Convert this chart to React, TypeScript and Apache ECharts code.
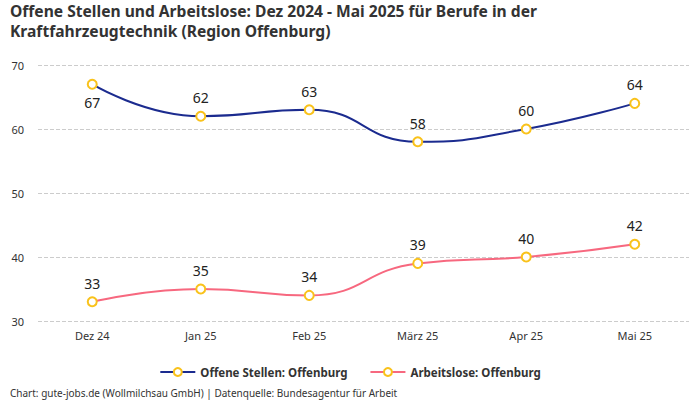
import React, { useEffect, useRef } from "react";
import * as echarts from "echarts";

const categories = ["Dez 24", "Jan 25", "Feb 25", "März 25", "Apr 25", "Mai 25"];
const offeneStellen = [67, 62, 63, 58, 60, 64];
const arbeitslose = [33, 35, 34, 39, 40, 42];
const seriesNames = ["Offene Stellen: Offenburg", "Arbeitslose: Offenburg"];
const titleLine1 = "Offene Stellen und Arbeitslose: Dez 2024 - Mai 2025 für Berufe in der";
const titleLine2 = "Kraftfahrzeugtechnik (Region Offenburg)";
const footerText = "Chart: gute-jobs.de (Wollmilchsau GmbH) | Datenquelle: Bundesagentur für Arbeit";

const FONT = "'Noto Sans', 'Open Sans', sans-serif";

export default function App() {
  const ref = useRef<HTMLDivElement>(null);
  useEffect(() => {
    document.body.style.margin = "0";
    if (!ref.current) return;
    const chart = echarts.init(ref.current, null, { renderer: "svg" });
    const marker = { color: "#ffffff", borderColor: "#f9c21b", borderWidth: 2 };
    const titleStyle = { fontSize: 15.6, fontWeight: "bold", color: "#333", lineHeight: 17, fontFamily: FONT };
    chart.setOption({
      animation: false,
      textStyle: { fontFamily: FONT },
      title: {
        text: titleLine1,
        subtext: titleLine2,
        left: 10,
        top: 2,
        itemGap: 3,
        padding: [0, 0, 0, 0],
        textStyle: titleStyle,
        subtextStyle: titleStyle,
      },
      graphic: [
        {
          type: "text",
          left: 10,
          top: 388,
          style: { text: footerText, fontSize: 10, fill: "#333", fontFamily: FONT },
        },
      ],
      legend: {
        top: 361,
        left: "center",
        itemWidth: 35,
        itemHeight: 10,
        itemGap: 22,
        textStyle: { fontSize: 11.5, fontWeight: "bold", color: "#333", fontFamily: FONT },
        data: seriesNames,
      },
      grid: { left: 38, right: 11, top: 65, bottom: 79, containLabel: false },
      xAxis: {
        type: "category",
        data: categories,
        boundaryGap: true,
        axisLine: { show: false },
        axisTick: { show: false },
        axisLabel: { color: "#333", fontSize: 11, margin: 9, fontFamily: FONT },
      },
      yAxis: {
        type: "value",
        min: 30,
        max: 70,
        interval: 10,
        axisLabel: { color: "#333", fontSize: 11, margin: 14, fontFamily: FONT },
        splitLine: { lineStyle: { type: "dashed", color: "#cccccc" } },
      },
      series: [
        {
          name: seriesNames[0],
          type: "line",
          data: offeneStellen.map((v, i) => ({
            value: v,
            label: { position: i === 0 ? "bottom" : "top" },
          })),
          smooth: 0.5,
          symbol: "circle",
          symbolSize: 9,
          lineStyle: { color: "#1b2b8f", width: 2 },
          itemStyle: marker,
          color: "#1b2b8f",
          label: { show: true, fontSize: 14, color: "#222", distance: 6, fontFamily: FONT },
        },
        {
          name: seriesNames[1],
          type: "line",
          data: arbeitslose,
          smooth: 0.5,
          symbol: "circle",
          symbolSize: 9,
          lineStyle: { color: "#f7687f", width: 2 },
          itemStyle: marker,
          color: "#f7687f",
          label: { show: true, position: "top", fontSize: 14, color: "#222", distance: 6, fontFamily: FONT },
        },
      ],
    });
    return () => chart.dispose();
  }, []);
  return <div ref={ref} style={{ width: 700, height: 400 }} />;
}
